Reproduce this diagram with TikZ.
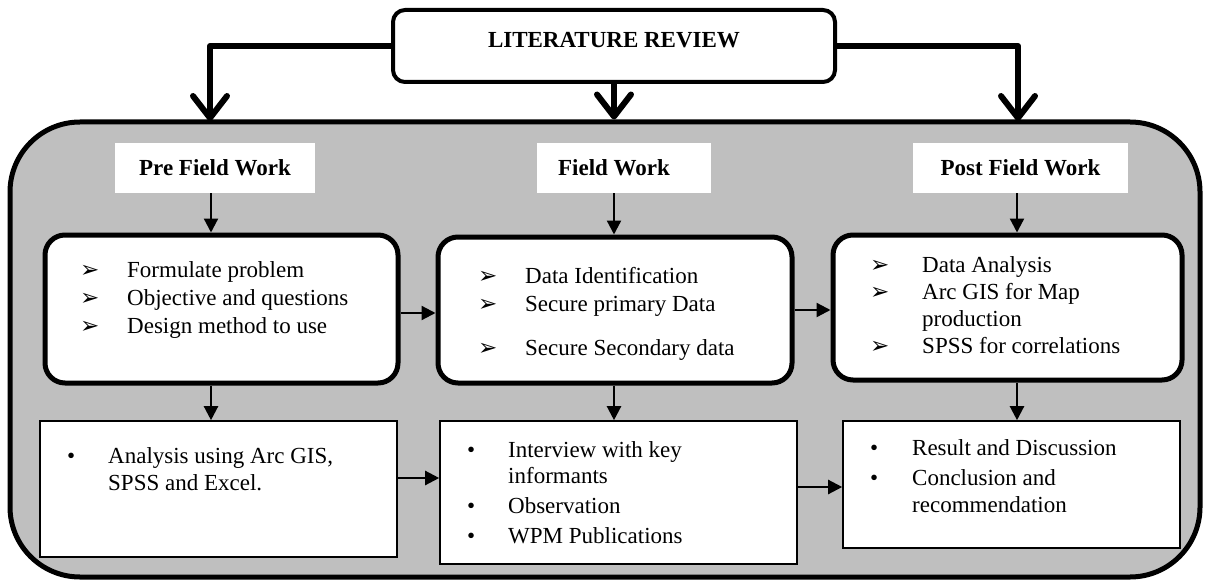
\documentclass[tikz,border=0pt]{standalone}
\usepackage{fontspec}
\setmainfont{Liberation Serif}
\newfontfamily\dejavu{DejaVu Sans}
\usetikzlibrary{arrows.meta}
\definecolor{panelgray}{HTML}{BFBFBF}
\newcommand{\arrbul}{{\dejavu\fontsize{23}{23}\selectfont ➢}}
\newcommand{\AB}[1]{\makebox[#1pt][l]{\arrbul}}
\newcommand{\DB}[1]{\makebox[#1pt][l]{\textbullet}}
\begin{document}
\begin{tikzpicture}[x=1pt,y=-1pt,
  txt/.style={font=\fontsize{23}{28}\selectfont, inner sep=0pt, anchor=base west},
  hdr/.style={fill=white, inner sep=0pt, minimum height=50pt, font=\bfseries\fontsize{23}{28}\selectfont},
  rbox/.style={draw, line width=5pt, fill=white, rounded corners=20pt},
  sbox/.style={draw, line width=1.6pt, fill=white},
  bigarr/.style={line width=6pt, line join=round, -{Straight Barb[length=22pt,width=34pt,line cap=round,line join=round]}},
  arr/.style={line width=2.3pt, -{Triangle[length=14pt,width=14pt]}}]
\useasboundingbox (0,0) rectangle (1206,580);
\fill[white] (0,0) rectangle (1206,580);

% main panel
\node[draw, line width=5pt, fill=panelgray, rounded corners=70pt,
      minimum width=1190pt, minimum height=455pt] (big) at (605,349.5) {};

% title
\node[draw, line width=4pt, fill=white, rounded corners=12pt,
      minimum width=442pt, minimum height=72pt, text depth=13pt,
      font=\bfseries\fontsize{23}{28}\selectfont] (title) at (614,46) {LITERATURE REVIEW};

% headers
\node[hdr, minimum width=200pt] (h1) at (215,168) {Pre Field Work};
\node[hdr, minimum width=174pt] (h2) at (624,168) {Field Work\hspace*{20pt}};
\node[hdr, minimum width=215pt] (h3) at (1020.5,168) {Post Field Work};

% rounded boxes
\node[rbox, minimum width=353pt, minimum height=148pt] (r1) at (221.5,309) {};
\node[rbox, minimum width=354pt, minimum height=146pt] (r2) at (615,310) {};
\node[rbox, minimum width=349pt, minimum height=145pt] (r3) at (1007.5,307.5) {};

% bottom boxes
\node[sbox, minimum width=357pt, minimum height=136pt] (b1) at (218.5,489) {};
\node[sbox, minimum width=357pt, minimum height=143pt] (b2) at (618.5,492.5) {};
\node[sbox, minimum width=337pt, minimum height=127pt] (b3) at (1011.5,484.5) {};

% texts
\node[txt] (r1t) at (80,277) {\begin{tabular}[t]{@{}l@{}}
\AB{47}Formulate problem\\
\AB{47}Objective and questions\\
\AB{47}Design method to use\end{tabular}};
\node[txt] (r2t) at (478,283) {\begin{tabular}[t]{@{}l@{}}
\AB{47}Data Identification\\
\AB{47}Secure primary Data\\[16pt]
\AB{47}Secure Secondary data\end{tabular}};
\node[txt] (r3t) at (870,272) {\begin{tabular}[t]{@{}l@{}}
\AB{52}Data Analysis\\[-1pt]
\AB{52}Arc GIS for Map\\[-1pt]
\hspace*{52pt}production\\[-1pt]
\AB{52}SPSS for correlations\end{tabular}};
\node[txt] (b1t) at (67,463) {\begin{tabular}[t]{@{}l@{}}
\DB{41}Analysis using Arc GIS,\\[-1pt]
\hspace*{41pt}SPSS and Excel.\end{tabular}};
\node[txt] (b2t) at (467,457) {\begin{tabular}[t]{@{}l@{}}
\DB{41}Interview with key\\[-2pt]
\hspace*{41pt}informants\\[2pt]
\DB{41}Observation\\[2pt]
\DB{41}WPM Publications\end{tabular}};
\node[txt] (b3t) at (870,455) {\begin{tabular}[t]{@{}l@{}}
\DB{42}Result and Discussion\\[2pt]
\DB{42}Conclusion and\\[-1pt]
\hspace*{42pt}recommendation\end{tabular}};

% thick arrows from title
\coordinate (t1) at (210,121);
\coordinate (t3) at (1018,121);
\draw[bigarr] (title.west) -| (t1);
\draw[bigarr] (title.south) -- (title.south |- big.north);
\draw[bigarr] (title.east) -| (t3);

% column x positions
\coordinate (c1) at (211,0);
\coordinate (c2) at (614,0);
\coordinate (c3) at (1017,0);
\draw[arr] (h1.south -| c1) -- (r1.north -| c1);
\draw[arr] (h2.south -| c2) -- (r2.north -| c2);
\draw[arr] (h3.south -| c3) -- (r3.north -| c3);
\draw[arr] (r1.south -| c1) -- (b1.north -| c1);
\draw[arr] (r2.south -| c2) -- (b2.north -| c2);
\draw[arr] (r3.south -| c3) -- (b3.north -| c3);

% horizontal arrows
\coordinate (ra) at (0,313);
\coordinate (rb) at (0,310);
\coordinate (ba) at (0,478);
\coordinate (bb) at (0,487);
\draw[arr] (r1.east |- ra) -- (r2.west |- ra);
\draw[arr] (r2.east |- rb) -- (r3.west |- rb);
\draw[arr] (b1.east |- ba) -- (b2.west |- ba);
\draw[arr] (b2.east |- bb) -- (b3.west |- bb);
\end{tikzpicture}
\end{document}
